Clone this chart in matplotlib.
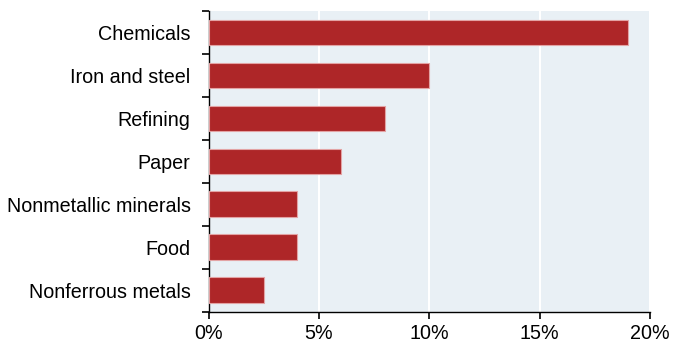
import matplotlib
matplotlib.use("Agg")

import matplotlib.pyplot as plt
from matplotlib.ticker import FuncFormatter

sectores = ["Chemicals", "Iron and steel", "Refining", "Paper",
            "Nonmetallic minerals", "Food", "Nonferrous metals"]
valores = [19, 10, 8, 6, 4, 4, 2.5]
ticks_x = [0, 5, 10, 15, 20]

plt.rcParams['font.family'] = ['Liberation Sans', 'DejaVu Sans']

fig = plt.figure(figsize=(6.73, 3.42), dpi=100)
ax = fig.add_axes([0.310, 0.0886, 0.656, 0.879])
ax.set_facecolor("#e9f0f5")

posiciones = list(range(len(sectores)))[::-1]
ax.barh(posiciones, valores, height=0.6, color="#ae2628",
        edgecolor="#e3a3a4", linewidth=0.8, zorder=3)

ax.set_xlim(0, 20)
ax.set_ylim(-0.5, len(sectores) - 0.5)
ax.set_xticks(ticks_x)
ax.xaxis.set_major_formatter(FuncFormatter(lambda v, p: f"{v:.0f}%"))
ax.set_yticks(posiciones)
ax.set_yticklabels(sectores)
ax.set_yticks([i - 0.5 for i in range(len(sectores) + 1)], minor=True)

ax.grid(axis="x", color="white", linewidth=1.5, zorder=1)
ax.set_axisbelow(True)

for lado in ["top", "right"]:
    ax.spines[lado].set_visible(False)
ax.spines["left"].set_linewidth(1.0)
ax.spines["bottom"].set_linewidth(1.0)

ax.tick_params(axis="y", which="major", length=0, pad=13, labelsize=14.2)
ax.tick_params(axis="y", which="minor", length=5, width=1.2)
ax.tick_params(axis="x", length=5, width=1.2, labelsize=14.2, pad=3.5)

plt.savefig("out.png", dpi=100)
